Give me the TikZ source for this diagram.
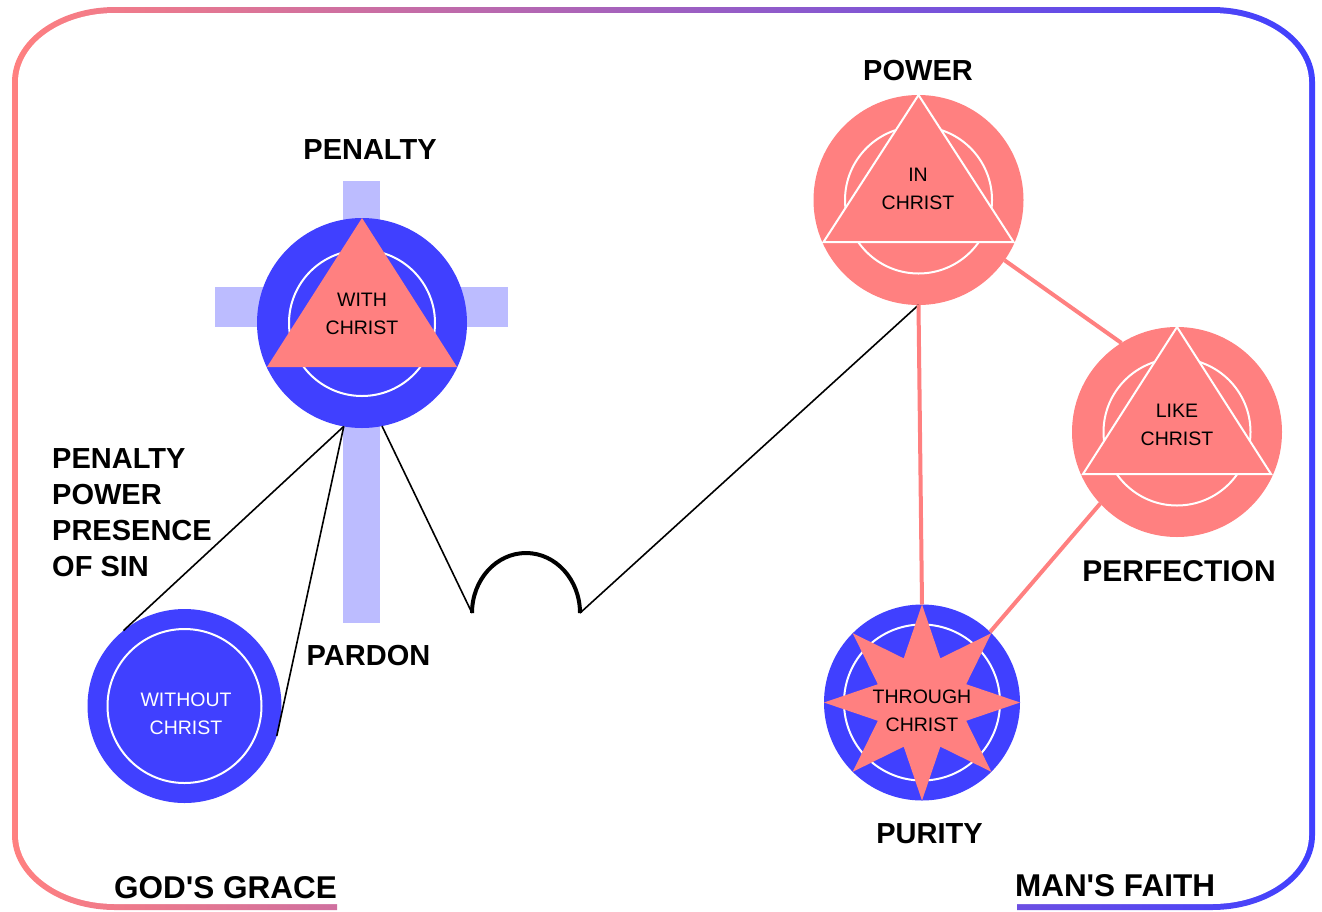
\documentclass[tikz,border=0pt]{standalone}
\usepackage{fontspec}
\setmainfont{Liberation Sans}[Ligatures=TeXOff]
\usetikzlibrary{shapes.geometric}
\definecolor{grace}{RGB}{255,128,128}
\definecolor{faith}{RGB}{64,64,255}
\definecolor{crossbar}{RGB}{188,188,255}
\begin{document}
\begin{tikzpicture}[x=1pt,y=1pt,
  biglabel/.style={font=\fontsize{29}{36}\selectfont\bfseries, inner sep=0pt},
  footlabel/.style={font=\fontsize{31.5}{36}\selectfont\bfseries, inner sep=0pt},
  inlabel/.style={font=\fontsize{19.5}{28}\selectfont, align=center, inner sep=0pt},
  disc/.style={circle, inner sep=0pt, outer sep=0pt, minimum size=#1},
  ring/.style={draw=white, line width=2pt},
  link/.style={line width=1.6pt},
  hump/.style={line width=4pt},
  bond/.style={grace, line width=4pt}]
  \useasboundingbox (0,0) rectangle (1322,-911);
  % frame
  \begin{scope}
    \clip (0,0) -- (1322,0) -- (1322,-911) -- (1017,-911) -- (1017,-880) -- (337,-880) -- (337,-911) -- (0,-911) -- cycle;
    \shade[left color=grace, right color=faith] (115,-7) -- (1212,-7) arc[start angle=90, end angle=0, x radius=103pt, y radius=75pt] -- (1315,-835) arc[start angle=0, end angle=-90, x radius=103pt, y radius=75pt] -- (115,-910) arc[start angle=270, end angle=180, x radius=103pt, y radius=75pt] -- (12,-82) arc[start angle=180, end angle=90, x radius=103pt, y radius=75pt] -- cycle;
  \end{scope}
  \fill[white] (115,-13) -- (1212,-13) arc[start angle=90, end angle=0, x radius=97pt, y radius=69pt] -- (1309,-835) arc[start angle=0, end angle=-90, x radius=97pt, y radius=69pt] -- (115,-904) arc[start angle=270, end angle=180, x radius=97pt, y radius=69pt] -- (18,-82) arc[start angle=180, end angle=90, x radius=97pt, y radius=69pt] -- cycle;
  % cross
  \fill[crossbar] (343,-181) rectangle (380,-623);
  \fill[crossbar] (215,-287) rectangle (508,-327);
  % with christ
  \node[disc=210pt, fill=faith] (with) at (362,-323) {};
  \draw[ring] (with.center) circle[radius=73pt];
  \fill[grace] (with.north) -- ++(-95,-149) -- ++(190,0) -- cycle;
  \node[inlabel] (withtext) at (362,-314) {WITH\\CHRIST};
  % without christ
  \node[disc=194pt, fill=faith] (without) at (184.5,-706) {};
  \draw[ring] (without.center) circle[radius=77pt];
  \node[inlabel, text=white] (withouttext) at (186,-714) {WITHOUT\\CHRIST};
  % in christ
  \node[disc=210pt, fill=grace] (power) at (918.5,-200) {};
  \draw[ring] (power.center) circle[radius=73.5pt];
  \filldraw[fill=grace, ring] (power.north) -- ++(-95,-147) -- ++(190,0) -- cycle;
  \node[inlabel] (intext) at (918,-189) {IN\\CHRIST};
  % like christ
  \node[disc=210pt, fill=grace] (like) at (1177,-432) {};
  \draw[ring] (like.center) circle[radius=73.5pt];
  \filldraw[fill=grace, ring] (like.north) -- ++(-94,-147) -- ++(188,0) -- cycle;
  \node[inlabel] (liketext) at (1177,-425) {LIKE\\CHRIST};
  % through christ
  \node[disc=196pt, fill=faith] (through) at (922,-702.5) {};
  \draw[ring] (through.center) circle[radius=78pt];
  \node[star, star points=8, star point ratio=2.05, minimum size=196pt, inner sep=0pt, fill=grace] (burst) at (through.center) {};
  \node[inlabel] (throughtext) at (922,-710.5) {THROUGH\\CHRIST};
  % links
  \coordinate (humpL) at (472,-613);
  \coordinate (humpR) at (580,-613);
  \draw[link] (with.-100) -- (without.129);
  \draw[link] (with.-100) -- (without.-18);
  \draw[link] (with.-79) -- (humpL);
  \draw[hump] (humpL) arc[start angle=180, end angle=0, x radius=54pt, y radius=60pt];
  \draw[link] (humpR) -- (power.south);
  \draw[bond] (power.-35) -- (like.122);
  \draw[bond] (power.south) -- (through.north);
  \draw[bond] (like.-137) -- (through.46);
  % labels
  \node[biglabel] (penalty) at (370,-150) {PENALTY};
  \node[biglabel, align=left, anchor=west] (sins) at (52,-513) {PENALTY\\POWER\\PRESENCE\\OF SIN};
  \node[biglabel] (pardon) at (368.5,-655.5) {PARDON};
  \node[biglabel] (powerlabel) at (918,-71) {POWER};
  \node[biglabel, font=\fontsize{30}{36}\selectfont\bfseries] (perfection) at (1179,-571) {PERFECTION};
  \node[biglabel] (purity) at (929.5,-834) {PURITY};
  \node[footlabel] (gracelabel) at (225.5,-888) {GOD'S GRACE};
  \node[footlabel] (faithlabel) at (1115,-886) {MAN'S FAITH};
\end{tikzpicture}
\end{document}
